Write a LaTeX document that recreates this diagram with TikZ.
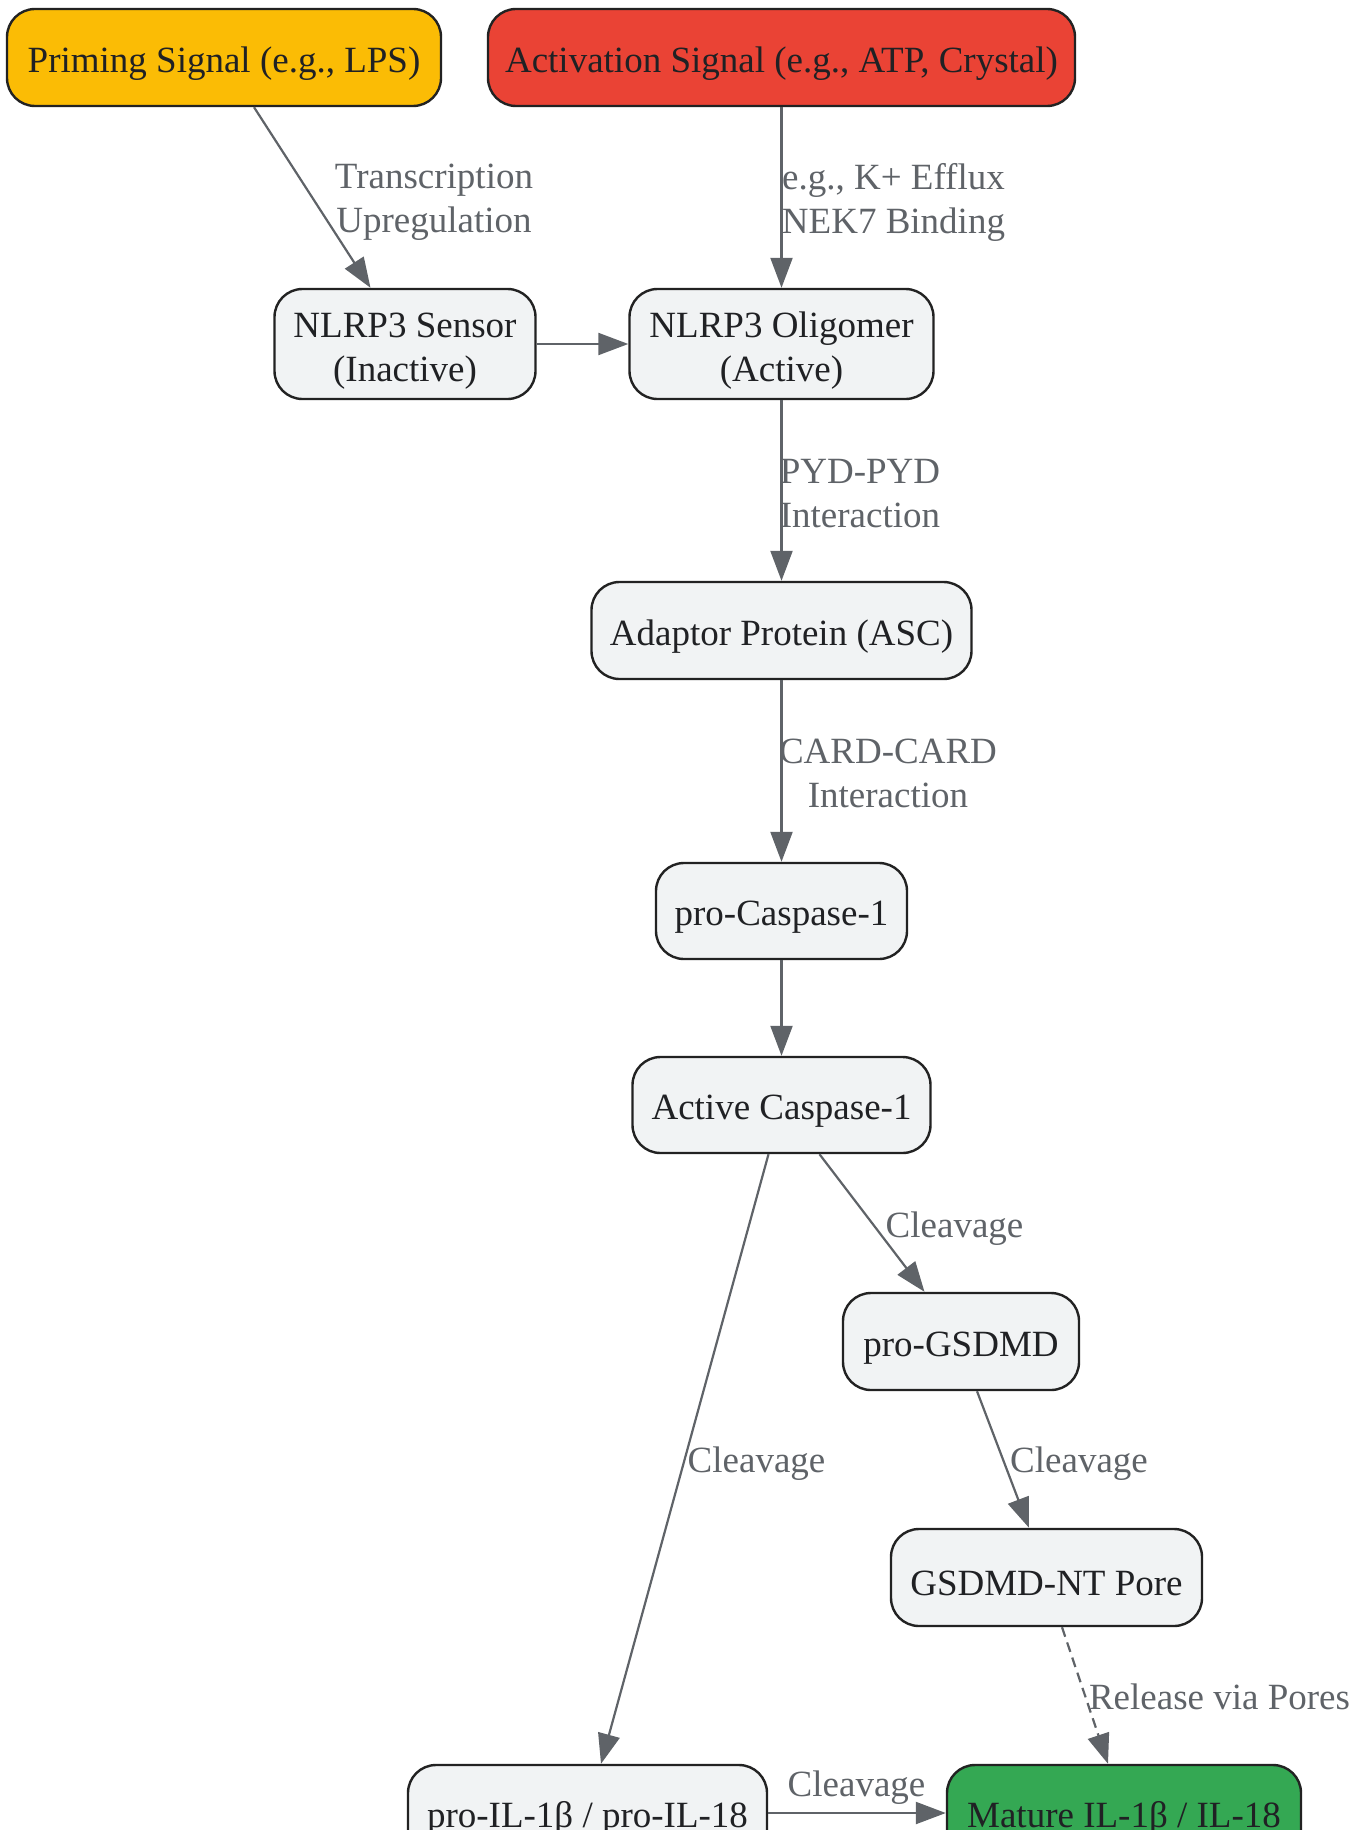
\documentclass[tikz,border=0pt]{standalone}
\usepackage{fontspec}
\setmainfont{Liberation Serif}
\usetikzlibrary{arrows.meta}
\definecolor{gfill}{HTML}{F1F3F4}
\definecolor{gline}{HTML}{5F6368}
\definecolor{gtext}{HTML}{202124}
\definecolor{gborder}{HTML}{222222}
\definecolor{sigyellow}{HTML}{FBBC05}
\definecolor{sigred}{HTML}{EA4335}
\definecolor{siggreen}{HTML}{34A853}
\begin{document}
\begin{tikzpicture}[x=1pt,y=-1pt,
  box/.style={draw=gborder, line width=2.4pt, rounded corners=28pt, fill=gfill,
    text=gtext, inner sep=0pt, font=\fontsize{37}{44}\selectfont, align=center,
    execute at begin node={\rule{0pt}{37pt}}},
  twoline/.style={execute at begin node={}},
  edge/.style={draw=gline, line width=2.2pt, -{Triangle[length=30pt,width=22pt]}},
  lab/.style={text=gline, font=\fontsize{37}{44}\selectfont, align=center, inner sep=0pt}]
\useasboundingbox (0,0) rectangle (1365,1830);

% nodes
\node[box, fill=sigyellow, minimum width=434pt, minimum height=97pt] (prim) at (224,57.5) {Priming Signal (e.g., LPS)};
\node[box, fill=sigred, minimum width=587pt, minimum height=97pt] (act) at (781.5,57.5) {Activation Signal (e.g., ATP, Crystal)};
\node[box, twoline, minimum width=261pt, minimum height=110pt] (sens) at (405,344) {\rule{0pt}{39pt}NLRP3 Sensor\\(Inactive)};
\node[box, twoline, minimum width=304pt, minimum height=110pt] (olig) at (781.5,344) {\rule{0pt}{39pt}NLRP3 Oligomer\\(Active)};
\node[box, minimum width=380pt, minimum height=97pt] (asc) at (781.5,630.5) {Adaptor Protein (ASC)};
\node[box, minimum width=251pt, minimum height=96pt] (pc1) at (781.5,911) {pro-Caspase-1};
\node[box, minimum width=298pt, minimum height=96pt] (ac1) at (781.5,1105) {Active Caspase-1};
\node[box, minimum width=236pt, minimum height=97pt] (pg) at (961,1341.5) {pro-GSDMD};
\node[box, minimum width=311pt, minimum height=97pt] (pore) at (1046.5,1577.5) {GSDMD-NT Pore};
\node[box, minimum width=359pt, minimum height=96pt] (proil) at (587.5,1813) {pro-IL-1β / pro-IL-18};
\node[box, fill=siggreen, minimum width=354pt, minimum height=96pt] (mat) at (1124,1813) {Mature IL-1β / IL-18};

% edges
\draw[edge] ([xshift=30pt]prim.south) -- ([xshift=-34.5pt]sens.north);
\draw[edge] (act.south) -- (olig.north);
\draw[edge] (sens.east) -- (olig.west);
\draw[edge] (olig.south) -- (asc.north);
\draw[edge] (asc.south) -- (pc1.north);
\draw[edge] (pc1.south) -- (ac1.north);
\draw[edge] ([xshift=-13pt]ac1.south) -- ([xshift=13.5pt]proil.north);
\draw[edge] ([xshift=38pt]ac1.south) -- ([xshift=-36.5pt]pg.north);
\draw[edge] ([xshift=16pt]pg.south) -- ([xshift=-17.5pt]pore.north);
\draw[edge, dash pattern=on 10pt off 6pt] ([xshift=15.5pt]pore.south) -- ([xshift=-16pt]mat.north);
\draw[edge] (proil.east) -- (mat.west);

% labels
\node[lab] (l1) at (434,202.5) {Transcription\\Upregulation};
\node[lab] (l2) at (893.5,202) {e.g., K+ Efflux\\NEK7 Binding};
\node[lab] (l3) at (860,494) {PYD-PYD\\Interaction};
\node[lab] (l4) at (888,773) {CARD-CARD\\Interaction};
\node[lab] (l5) at (756.5,1463.5) {Cleavage};
\node[lab] (l6) at (954.5,1228.5) {Cleavage};
\node[lab] (l7) at (1079,1463.5) {Cleavage};
\node[lab] (l8) at (1219.5,1696.5) {Release via Pores};
\node[lab] (l9) at (856.5,1788) {Cleavage};
\end{tikzpicture}
\end{document}
